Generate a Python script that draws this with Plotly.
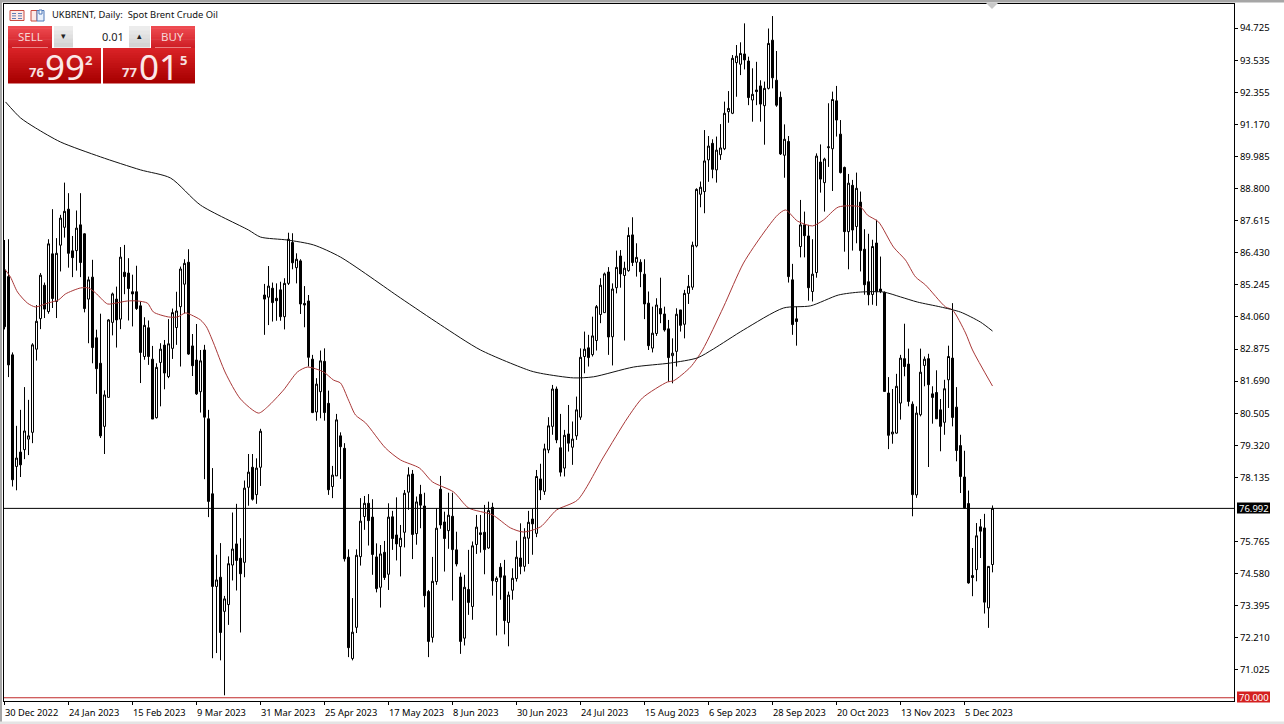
import plotly.graph_objects as go

W, H = 1284, 724
L, R, T, B = 4, 1234, 4, 701

colours = ("BBBWBWWWWW" "BWBWWWBBWB" "BWBBBWWWBW" "BBBBBWBBWW" "BWWWWWBBBW"
           "BBBWBWWWBB" "WWBWWBWBBB" "WWBWBBBBWW" "BBWWBBBWWW" "WBBBWBWBBW"
           "WWBWBBBWWB" "BWBBBWBWWB" "BWBWBBWWWB" "WWBWBWWWBB" "WBWWWWBWWW"
           "WBWWBWWBWB" "BBWWBBBWWB" "WWWWWWWBWW" "WWWWWBBWBB" "WWBBBWBBBW"
           "BBWWBWWWBB" "BWBWBBBWBB" "BBWWWBBBWW" "WBBBBWWBBB" "BBBWBBWW")

highs = [86.9,86.93,82.75,80.04,80.63,81.47,81.0,83.09,84.5,85.68,
 85.33,86.93,88.04,86.97,87.83,89.02,88.63,87.05,87.99,88.63,
 87.15,85.55,86.17,83.59,84.18,81.35,83.98,84.96,85.18,86.64,
 86.72,86.23,85.62,85.95,84.63,84.05,83.93,82.99,82.35,83.09,
 83.21,83.98,84.37,84.99,85.92,86.19,86.56,83.43,83.8,82.84,
 83.03,80.63,78.48,75.28,75.71,73.76,75.22,76.84,77.16,75.89,
 78.02,79.0,79.0,78.84,79.93,85.28,85.94,85.33,85.3,85.36,
 85.49,87.17,87.15,86.41,86.19,85.2,84.87,82.66,81.8,82.82,
 82.9,81.34,78.56,80.48,79.8,79.4,75.48,73.68,75.48,77.37,
 77.45,77.52,77.33,75.7,75.64,75.79,77.18,76.9,77.4,76.38,
 77.67,78.51,78.41,77.43,77.86,77.57,73.98,75.2,77.0,78.19,
 76.87,77.57,77.57,76.13,74.62,74.54,75.46,75.77,76.75,76.75,
 77.12,77.24,77.2,74.48,74.97,75.09,73.92,74.78,75.8,76.44,
 76.26,76.9,76.97,78.41,78.64,79.38,80.36,81.55,81.49,80.48,
 79.89,80.81,80.2,81.12,82.9,83.52,83.4,84.07,84.5,85.49,
 85.7,85.9,85.3,86.51,86.53,86.1,87.37,87.74,86.78,86.19,
 86.19,85,84.44,84.75,85.51,84.44,83.95,83.27,84.38,84.32,
 85.06,85.61,86.84,88.81,89.06,90.96,90.74,90.62,90.72,91.18,
 92.01,92.4,93.73,94.1,94.2,94.9,93.67,93.24,93.48,92.8,
 92.75,94.71,95.17,93.88,92.38,91.17,90.74,86.02,84.44,88.38,
 87.95,87.46,86.93,90.1,90.43,89.94,91.95,92.38,92.59,91.33,
 89.61,89.34,89.12,89.39,88.69,87.3,87.13,86.91,87.65,86.29,
 85.0,81.84,81.4,81.96,82.66,83.81,82.89,80.94,80.76,82.89,
 82.6,82.7,81.5,82.09,81.03,81.74,83.0,84.57,81.47,79.71,
 79.12,77.65,75.53,76.45,76.6,76.79,74.86,77.1]

body_tops = [85.8,85.55,82.66,78.85,79.07,79.85,79.67,83.03,83.9,85.6,
 85.23,86.76,86.39,86.41,87.71,87.96,88.04,86.5,87.34,87.46,
 87.13,85.43,85.53,83.29,82.35,81.18,83.95,84.91,84.72,86.27,
 85.71,85.68,84.99,84.99,84.47,83.75,83.66,82.5,82.2,82.87,
 83.02,83.07,84.22,84.28,85.83,86.04,86.08,82.99,82.47,82.44,
 82.84,80.3,77.53,74.35,74.45,73.65,74.95,75.49,75.68,75.15,
 77.74,78.33,78.51,78.48,79.84,84.87,85.2,85.12,84.75,85.06,
 85.3,86.93,86.81,86.19,86.13,84.56,84.65,82.5,81.58,82.44,
 82.42,80.87,78.22,80.26,79.67,79.21,75.19,72.42,75.26,76.52,
 77.18,77.18,76.67,75.2,75.31,75.37,76.67,76.68,76.01,75.89,
 77.55,78.23,78.26,77.23,77.51,77.08,73.92,74.3,76.26,77.7,
 76.49,76.74,76.7,75.46,74.46,74.08,74.0,75.61,76.3,76.09,
 76.11,76.91,77.03,74.41,74.82,74.5,73.79,74.41,75.19,75.16,
 75.93,76.48,76.6,78.17,78.08,79.19,80.04,81.4,81.4,79.23,
 79.69,79.74,79.55,80.63,82.57,82.87,82.92,83.36,84.44,85.23,
 85.65,85.72,85.09,85.89,86.31,85.86,87.07,87.09,86.26,86.08,
 85.64,84.57,83.46,84.5,84.37,84.17,83.62,82.72,84.16,84.32,
 84.93,85.19,86.71,88.77,88.85,89.82,90.37,90.47,90.22,90.3,
 91.58,91.76,93.61,93.69,93.79,93.77,93.51,92.28,92.44,92.59,
 92.5,94.16,94.28,92.8,92.17,90.62,90.54,85.43,83.99,87.46,
 87.46,87.05,85.64,90.0,89.78,89.89,90.34,92.09,92.04,90.81,
 89.58,89.0,88.92,88.81,88.3,86.56,85.36,86.66,86.79,85.09,
 84.97,81.25,79.81,81.5,82.54,82.52,82.32,80.84,80.51,82.02,
 82.5,82.52,81.22,81.27,80.63,81.41,82.6,82.54,80.73,79.31,
 78.15,77.17,74.51,75.98,76.31,76.27,74.85,76.99]

body_bottoms = [83.7,82.29,78.05,78.54,78.6,79.16,79.55,79.8,82.87,84.0,
 84.35,84.26,84.74,84.63,86.71,87.37,86.41,86.25,86.51,86.07,
 84.37,84.72,82.93,82.15,79.67,80.02,81.09,83.86,83.95,83.98,
 85.55,85.11,84.91,84.37,82.75,82.6,82.6,80.29,80.34,82.38,
 81.99,81.86,82.9,83.67,84.44,85.27,82.69,82.26,81.22,81.3,
 80.36,77.25,74.11,74.11,72.41,73.19,73.44,74.9,75.07,74.58,
 75.0,77.77,77.33,77.5,78.51,84.72,84.79,84.59,84.66,84.07,
 84.07,85.3,86.06,85.88,84.54,84.5,82.57,80.53,80.55,81.3,
 80.53,77.68,77.8,78.19,79.27,75.13,71.85,71.45,72.6,75.21,
 76.69,76.54,75.29,74.03,74.08,74.44,74.56,75.88,75.68,75.58,
 76.11,77.59,76.03,76.06,77.11,73.77,72.08,72.23,74.29,76.38,
 75.88,76.17,75.47,74.94,72.08,72.2,73.52,73.37,75.66,76.03,
 75.47,75.53,74.32,74.29,74.45,72.85,72.78,73.97,74.4,74.85,
 74.85,75.89,76.42,76.07,77.67,77.62,79.15,80.02,79.52,78.33,
 78.48,79.4,79.25,79.67,80.36,82.6,82.56,82.67,83.19,84.15,
 84.22,83.32,83.33,85.14,85.65,85.59,85.77,86.07,86.08,85.73,
 84.54,83.0,82.91,83.45,84.17,83.58,82.56,82.63,82.79,83.75,
 83.79,84.93,85.16,86.68,88.59,88.69,89.86,89.51,89.49,90.05,
 90.27,91.64,91.58,93.45,93.39,93.55,92.16,92.07,92.38,91.92,
 91.86,92.5,92.89,91.88,90.08,90.03,85.55,83.78,83.89,86.66,
 87.06,85.14,85.0,85.7,89.15,89.02,90.31,90.27,91.33,89.39,
 87.21,87.21,87.27,87.4,86.51,85.25,84.88,84.89,84.99,85.0,
 81.31,79.69,79.74,79.77,80.88,82.23,80.94,77.5,77.49,80.45,
 82.27,81.56,81.09,80.3,80.02,80.17,81.74,80.35,79.13,78.17,
 77.01,74.24,74.44,74.73,76.15,73.53,73.32,74.92]

lows = [83.6,81.84,77.8,77.66,78.15,78.81,78.96,79.4,82.45,83.61,
 84.02,84.18,84.39,84.02,85.74,86.99,85.88,85.53,85.77,85.53,
 84.23,83.09,82.35,81.22,79.59,79.0,81.09,83.38,82.93,83.61,
 84.9,83.93,83.71,84.32,81.62,82.48,82.29,80.29,80.31,80.76,
 81.39,81.8,82.51,83.03,82.23,84.19,82.66,81.88,81.18,80.53,
 78.07,76.67,71.46,71.65,71.38,70.09,72.69,74.33,73.96,72.41,
 74.45,77.09,77.28,77.16,77.82,83.4,83.76,83.89,83.92,83.92,
 83.6,85.24,85.82,85.3,84.17,83.68,82.23,80.51,80.23,80.32,
 80.23,77.49,77.37,78.2,78.08,75.03,71.5,71.38,72.39,74.88,
 76.2,75.62,74.54,73.89,73.33,74.35,73.98,75.46,75.07,74.48,
 75.55,76.94,75.12,75.65,76.26,73.34,71.5,72.04,74.17,76.24,
 74.66,75.5,73.59,74.85,71.62,71.93,73.06,72.88,75.31,75.36,
 74.56,75.5,73.77,72.3,73.62,72.34,71.9,73.62,74.29,74.56,
 74.66,74.94,75.28,75.93,77.3,77.49,79.03,79.71,79.4,78.17,
 78.17,79.09,78.6,79.52,80.26,81.98,82.23,82.6,82.82,83.83,
 84.22,82.66,82.27,84.93,85.14,83.19,85.73,85.94,85.55,85.16,
 83.98,82.84,82.75,83.36,83.83,83.52,81.67,81.61,82.23,83.52,
 83.27,84.54,85.06,86.63,88.11,87.89,89.05,89.18,89.02,89.86,
 90.22,91.23,91.55,92.19,92.99,93.2,91.88,91.27,91.88,91.27,
 90.42,92.46,92.5,91.82,90.04,89.2,85.33,83.4,83.0,86.26,
 86.26,84.66,84.63,85.51,88.65,87.95,89.6,88.71,90.72,89.36,
 86.47,85.82,86.51,86.78,85.74,84.88,84.49,84.51,84.47,84.94,
 81.31,79.18,79.38,79.75,80.27,81.87,80.76,76.7,77.38,80.39,
 81.5,78.52,80.12,80.29,79.1,79.71,80.7,80.02,78.73,77.56,
 76.98,74.21,73.75,74.3,75.16,73.11,72.58,74.63]

red_ma_bar = [0.25,1.5,3.25,5.75,7.75,10.75,13.5,15.25,19,21,22.75,25.75,27.75,30.75,33.25,35.75,37.25,41,
 43.25,45.25,46.75,49,50.5,52.25,55.25,59,63.5,65.75,69.75,73.25,75.75,79.75,82.25,84,
 86,87.75,90.25,95.25,99,103.75,107,112.25,116,122,126.5,129.75,134,138,
 143.25,149.75,155.75,159.5,165.75,167.25,171.5,174.5,179.75,184.75,189.75,193.25,195.25,198.25,202,204.75,208.5,214,
 215.75,218.5,222.25,225.25,227.75,230.25,235.25,237,240.25,242,247]
red_ma_val = [85.79,85.53,84.98,84.57,84.43,84.57,84.69,84.91,85.13,85.13,84.95,84.54,84.57,84.65,84.65,84.57,84.24,84.06,
 84.06,84.21,84.13,83.95,83.69,83.1,81.99,81.03,80.51,80.74,81.36,82.03,82.21,82.03,81.73,81.62,
 80.99,80.44,80.15,79.22,78.78,78.48,77.97,77.6,77.01,76.75,76.27,76.12,76.31,76.93,
 77.3,78.89,80.33,81.07,81.66,81.7,82.21,82.84,84.43,86.05,87.16,87.82,88.01,87.6,87.42,87.64,88.12,88.12,
 87.82,87.57,86.64,86.16,85.54,85.24,84.43,84.32,83.47,82.84,81.51]

black_ma_bar = [0.25,4,7.75,14,24,34,41.5,49,61,64,70.75,77.25,84,99,109,119,131.5,134.75,142.25,147.25,
 157.25,166.5,173.25,177.25,184.75,194.75,201.5,208.5,214,219.75,224,228.25,234,239,244,247]
black_ma_val = [92.0,91.41,91.04,90.52,89.97,89.49,89.19,88.19,87.27,87.01,86.9,86.72,86.27,84.76,83.77,82.84,82.07,81.96,81.81,81.85,
 82.21,82.36,82.55,82.88,83.58,84.39,84.47,84.87,84.98,84.98,84.8,84.61,84.43,84.24,83.87,83.54]

price_ticks = [94.725,93.535,92.355,91.170,89.985,88.800,87.615,86.430,85.245,84.060,82.875,
               81.690,80.505,79.320,78.135,75.765,74.580,73.395,72.210,71.025]
date_ticks = [0,16,32,48,64,80,96,112,128,144,160,176,192,208,224,240]
date_labels = ["30 Dec 2022","24 Jan 2023","15 Feb 2023","9 Mar 2023","31 Mar 2023","25 Apr 2023",
               "17 May 2023","8 Jun 2023","30 Jun 2023","24 Jul 2023","15 Aug 2023","6 Sep 2023",
               "28 Sep 2023","20 Oct 2023","13 Nov 2023","5 Dec 2023"]
last_price = 76.992
level_price = 70.0

opens = [b if c == "W" else t for c, t, b in zip(colours, body_tops, body_bottoms)]
closes = [t if c == "W" else b for c, t, b in zip(colours, body_tops, body_bottoms)]
bars = list(range(len(colours)))

FONT = "Noto Sans"
def px(x): return (x - L) / (R - L)
def py(y): return (B - y) / (B - T)

fig = go.Figure()
fig.add_trace(go.Candlestick(x=bars, open=opens, high=highs, low=lows, close=closes,
    increasing=dict(line=dict(color="black", width=1), fillcolor="white"),
    decreasing=dict(line=dict(color="black", width=1), fillcolor="black"),
    whiskerwidth=0, showlegend=False, hoverinfo="skip"))
fig.add_trace(go.Scatter(x=red_ma_bar, y=red_ma_val, mode="lines",
                         line=dict(color="#a93838", width=1, shape="spline", smoothing=0.7), showlegend=False))
fig.add_trace(go.Scatter(x=black_ma_bar, y=black_ma_val, mode="lines",
                         line=dict(color="#111111", width=1, shape="spline", smoothing=0.7), showlegend=False))

shapes, ann = [], []
def rect(x0, y0, x1, y1, fill, line=None, layer="above"):
    shapes.append(dict(type="rect", xref="paper", yref="paper", x0=px(x0), x1=px(x1), y0=py(y1), y1=py(y0),
                       fillcolor=fill, line=dict(color=line or fill, width=1 if line else 0), layer=layer))
def text(x, y, s, size, color="black", anchor="center", family=FONT, bold=False):
    ann.append(dict(xref="paper", yref="paper", x=px(x), y=py(y), text=f"<b>{s}</b>" if bold else s, showarrow=False,
                    xanchor=anchor, yanchor="middle", font=dict(family=family, size=size, color=color),
                    borderpad=0))
def gradient(x0, y0, x1, y1, c_top, c_bot, n=10):
    a = [int(c_top[i:i+2], 16) for i in (1, 3, 5)]
    b = [int(c_bot[i:i+2], 16) for i in (1, 3, 5)]
    for k in range(n):
        t = k / (n - 1)
        col = "#%02x%02x%02x" % tuple(round(a[j] + (b[j] - a[j]) * t) for j in range(3))
        rect(x0, y0 + (y1 - y0) * k / n, x1, y0 + (y1 - y0) * (k + 1) / n + 0.5, col)

# horizontal levels
for p, c in ((last_price, "black"), (level_price, "#c02828")):
    shapes.append(dict(type="line", xref="paper", yref="y", x0=0, x1=1, y0=p, y1=p, line=dict(color=c, width=1), layer="above"))

# window frame
rect(0, 0, 2, H, "#a6a6a6")
rect(0, 0, W, 2.5, "#a6a6a6")
rect(0, 721.5, W, H, "#e4e4e4")

# chart-shift marker at the top of the frame
shapes.append(dict(type="path", xref="paper", yref="paper",
                   path=f"M {px(986)},{py(3)} L {px(998)},{py(3)} L {px(992)},{py(9)} Z",
                   fillcolor="#c8c8c8", line=dict(width=0), layer="above"))

# trading panel
gradient(8, 26, 52, 48, "#ee4a50", "#cf1f26")
gradient(151, 26, 195, 48, "#ee4a50", "#cf1f26")
gradient(8, 48, 101, 83, "#d92226", "#a80000", 14)
gradient(103, 48, 195, 83, "#d92226", "#a80000", 14)
rect(12, 47, 48, 47.8, "#f3a0a0")
rect(155, 47, 191, 47.8, "#f3a0a0")
gradient(54, 26, 73, 47, "#ececec", "#d4d4d4", 5)
gradient(129, 26, 150, 47, "#ececec", "#d4d4d4", 5)
rect(73, 26, 129, 47, "white")
text(30, 36.5, "SELL", 11.5, "#f6d6d6")
text(172, 36.5, "BUY", 11.5, "#f6d6d6")
text(125, 36.5, "0.01", 11, "#222222", "right")
text(63.5, 36, "▾", 9, "#222222")
text(139.5, 36, "▴", 9, "#222222")
text(45, 72, "76", 13, "#f8e0e0", "right", bold=True)
text(64.5, 66, "99", 35, "#fbe8e8")
text(88, 60, "2", 13, "#f8e0e0", bold=True)
text(138, 72, "77", 13, "#f8e0e0", "right", bold=True)
text(159, 66, "01", 35, "#fbe8e8")
text(183, 60, "5", 13, "#f8e0e0", bold=True)

# title icons and title
rect(10, 10.5, 24, 20.5, "#fde9e6", "#c84a40")
for yy in (13, 15.5, 18):
    rect(12, yy, 16, yy + 0.8, "#3a62a8")
    rect(18, yy, 22, yy + 0.8, "#3a62a8")
rect(31, 10.5, 37, 21, "#fde9e6", "#c84a40")
rect(37, 10.5, 44, 21, "#eaf1fb", "#4f78b8")
rect(39, 10, 42, 14, "white", "#4f78b8")
text(51, 15, "UKBRENT, Daily:\u00a0 Spot Brent Crude Oil", 9.4, "#111111", "left")

# price boxes
rect(1237, 502.5, 1270, 513.5, "black")
text(1253.5, 508, "76.992", 9.5, "white")
rect(1237, 691.5, 1270, 702.5, "#d42020")
text(1253.5, 697, "70.000", 9.5, "white")

# date labels start at their tick, as in the terminal
for b, s in zip(date_ticks, date_labels):
    ann.append(dict(xref="x", yref="paper", x=b, y=0, text=s, showarrow=False, xanchor="left", yanchor="top",
                    yshift=-4, xshift=-1, font=dict(family=FONT, size=9.3, color="black"), borderpad=0))

fig.update_layout(
    width=W, height=H, margin=dict(l=L, r=W - R, t=T, b=H - B), autosize=False,
    paper_bgcolor="white", plot_bgcolor="white", showlegend=False, boxgap=0.5, boxgroupgap=0,
    hovermode=False, shapes=shapes, annotations=ann,
    xaxis=dict(range=[-0.125, (R - L) / 4 - 0.125], rangeslider=dict(visible=False), showgrid=False, zeroline=False,
               showline=True, mirror=True, linecolor="black", linewidth=1, tickmode="array",
               tickvals=date_ticks, showticklabels=False, ticks="outside", ticklen=3, tickcolor="black"),
    yaxis=dict(range=[69.88, 95.615], side="right", showgrid=False, zeroline=False, showline=True, mirror=True,
               linecolor="black", linewidth=1, tickmode="array", tickvals=price_ticks,
               ticktext=["%.3f" % v for v in price_ticks], ticks="outside", ticklen=3, tickcolor="black",
               tickfont=dict(family=FONT, size=9.5, color="black")),
)
fig.write_html("out.html", config=dict(displayModeBar=False),
               post_script="document.body.style.margin='0';document.body.style.overflow='hidden';")
